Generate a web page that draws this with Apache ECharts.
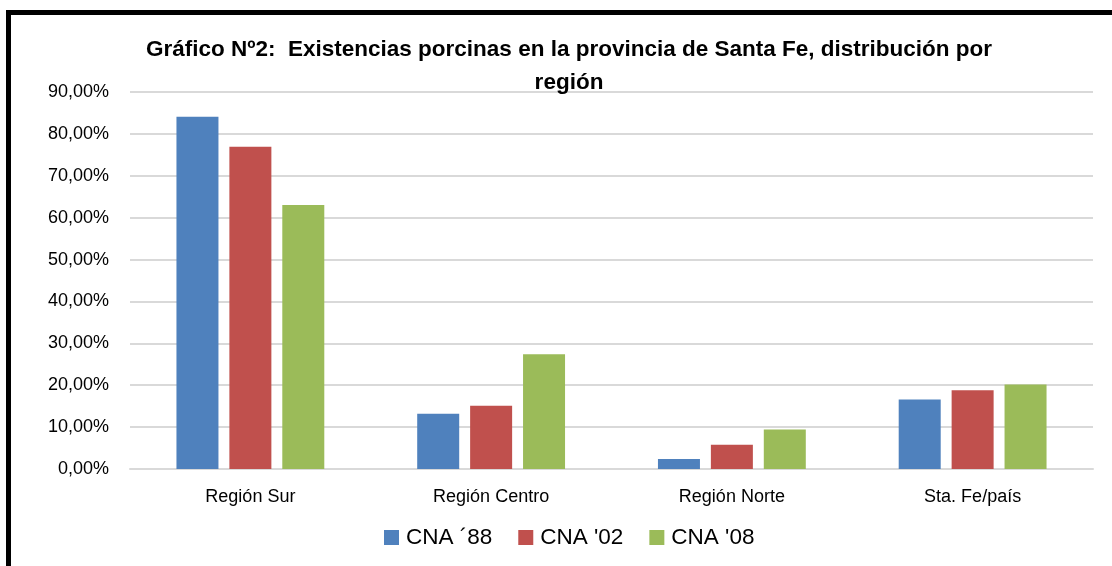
<!DOCTYPE html>
<html>
<head>
<meta charset="utf-8">
<script src="https://cdn.jsdelivr.net/npm/echarts@6/dist/echarts.min.js"></script>
<style>
  html, body { margin: 0; padding: 0; background: #fff; }
  #chart { width: 1112px; height: 566px; }
</style>
</head>
<body>
<div id="chart"></div>
<script>
// datos
const regiones = ['Región Sur', 'Región Centro', 'Región Norte', 'Sta. Fe/país'];
const cna88 = [84.1, 13.2, 2.4, 16.6];
const cna02 = [76.9, 15.1, 5.8, 18.8];
const cna08 = [63.0, 27.4, 9.4, 20.2];
const seriesNames = ['CNA ´88', "CNA '02", "CNA '08"];
const colors = ['#4F81BD', '#C0504D', '#9BBB59'];

const font = 'Liberation Sans';
const chart = echarts.init(document.getElementById('chart'));

function barSerie(name, data, color) {
    return {
        name,
        type: 'bar',
        data,
        barWidth: 42,
        barGap: '26%',
        itemStyle: { color },
        animation: false
    };
}

const option = {
    animation: false,
    title: {
        text: 'Gráfico Nº2:  Existencias porcinas en la provincia de Santa Fe, distribución por\nregión',
        left: 564,
        top: 28,
        textAlign: 'center',
        textStyle: {
            fontFamily: font,
            fontWeight: 'bold',
            fontSize: 22.5,
            lineHeight: 33,
            color: '#000'
        }
    },
    legend: {
        data: seriesNames,
        left: 379,
        top: 521,
        itemWidth: 15,
        itemHeight: 15,
        itemGap: 26,
        icon: 'rect',
        textStyle: { fontFamily: font, fontSize: 22.5, color: '#000', padding: [0, 0, 0, 2] }
    },
    grid: { left: 130, right: 19, top: 92, bottom: 97 },
    xAxis: {
        type: 'category',
        data: regiones,
        axisTick: { show: false },
        axisLine: { lineStyle: { color: '#d9d9d9', width: 2 } },
        axisLabel: { fontFamily: font, fontSize: 18, color: '#000', margin: 19 }
    },
    yAxis: {
        type: 'value',
        min: 0,
        max: 90,
        interval: 10,
        axisLabel: {
            fontFamily: font,
            fontSize: 18,
            color: '#000',
            margin: 21,
            formatter: v => v.toFixed(2).replace('.', ',') + '%'
        },
        splitLine: { lineStyle: { color: '#d9d9d9', width: 2 } }
    },
    series: [
        barSerie(seriesNames[0], cna88, colors[0]),
        barSerie(seriesNames[1], cna02, colors[1]),
        barSerie(seriesNames[2], cna08, colors[2])
    ],
    graphic: [
        // marco negro (arriba e izquierda)
        { type: 'rect', shape: { x: 6, y: 10, width: 1106, height: 5 }, style: { fill: '#000' } },
        { type: 'rect', shape: { x: 6, y: 10, width: 5, height: 556 }, style: { fill: '#000' } }
    ]
};

chart.setOption(option);
</script>
</body>
</html>
